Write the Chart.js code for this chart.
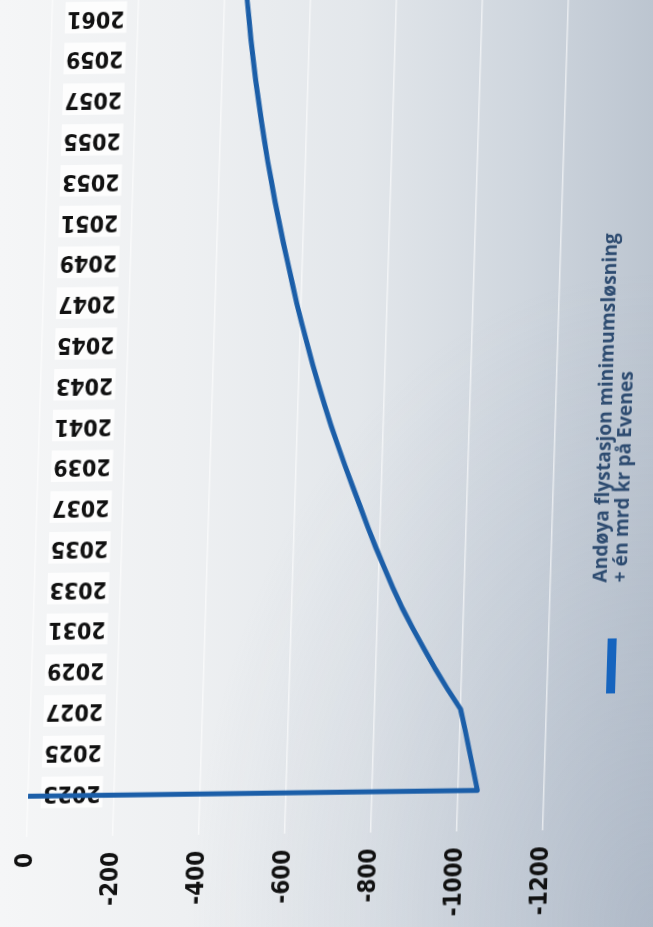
<!DOCTYPE html>
<html><head><meta charset="utf-8">
<script src="https://cdn.jsdelivr.net/npm/chart.js@4/dist/chart.umd.min.js"></script>
<style>
html,body{margin:0;padding:0;width:653px;height:927px;overflow:hidden;}
body{background:
  radial-gradient(ellipse at 100% 100%, rgba(150,163,183,0.35) 0%, rgba(150,163,183,0) 50%),
  linear-gradient(to right, #f5f6f7 0%, #eef0f2 28%, #e3e7eb 55%, #cfd6de 80%, #bcc5d0 100%);}
#wrap{position:absolute;left:0;top:0;width:970px;height:653px;transform-origin:0 0;transform:matrix(0.031,-1,1,-0.013,-16,927.5);}
#c{position:absolute;left:0;top:0;}
#mk{position:absolute;left:226px;top:615px;width:55px;height:9px;background:#1664be;}
#txt{position:absolute;left:337px;top:595px;font-family:'Open Sans',sans-serif;font-weight:700;font-size:19px;line-height:20px;color:#2d4b70;white-space:nowrap;}
</style></head>
<body>
<div id="wrap">
<canvas id="c" width="970" height="653"></canvas>
<div id="mk"></div>
<div id="txt"><span id="l1"></span><br><span id="l2"></span></div>
</div>
<script>
const years = [2023, 2023, 2024, 2025, 2026, 2027, 2028, 2029, 2030, 2031, 2032, 2033, 2034, 2035, 2036, 2037, 2038, 2039, 2040, 2041, 2042, 2043, 2044, 2045, 2046, 2047, 2048, 2049, 2050, 2051, 2052, 2053, 2054, 2055, 2056, 2057, 2058, 2059, 2060, 2061, 2062];
const values = [0, -1045, -1034, -1023, -1012, -1000, -968, -938, -910, -883, -857, -834, -812, -791, -771, -752, -733, -714, -696, -678, -662, -646, -631, -617, -603, -590, -578, -566, -554, -543, -532, -522, -512, -503, -494, -486, -478, -471, -464, -458, -452];
const yearTicks = [2023, 2025, 2027, 2029, 2031, 2033, 2035, 2037, 2039, 2041, 2043, 2045, 2047, 2049, 2051, 2053, 2055, 2057, 2059, 2061];
const valueTicks = [0, -200, -400, -600, -800, -1000, -1200];
const seriesLabel = ['Andøya flystasjon minimumsløsning', '+ én mrd kr på Evenes'];

document.getElementById('l1').textContent = seriesLabel[0];
document.getElementById('l2').textContent = seriesLabel[1];
(function fit(){
  const t = document.getElementById('l1');
  const w = t.offsetWidth;
  if (w > 0) {
    const fs = 19 * 350 / w;
    document.getElementById('txt').style.fontSize = fs.toFixed(2) + 'px';
  }
})();

// rotated tick text is drawn half a line off its tick; shift tick anchors back
const LABEL_SHIFT = 0.5;
const tickFont = "'DejaVu Sans Condensed', 'DejaVu Sans', sans-serif";

const ctx = document.getElementById('c').getContext('2d');
new Chart(ctx, {
  type: 'line',
  data: {
    datasets: [{
      label: seriesLabel.join(' '),
      data: years.map((x, i) => ({x: x, y: values[i]})),
      borderColor: '#1b5ea8',
      borderWidth: 5,
      pointRadius: 0,
      tension: 0,
      fill: false,
      borderJoinStyle: 'round',
      borderCapStyle: 'round'
    }]
  },
  options: {
    responsive: false,
    animation: false,
    devicePixelRatio: 1,
    layout: {padding: {top: 40, bottom: 97, left: 0, right: 3}},
    plugins: {legend: {display: false}, tooltip: {enabled: false}},
    scales: {
      x: {
        type: 'linear', position: {y: 0}, min: 2021, max: 2064, z: 1,
        afterBuildTicks: s => { s.ticks = yearTicks.map(v => ({value: v - LABEL_SHIFT})); },
        grid: {display: false, drawTicks: false}, border: {display: false},
        ticks: {
          minRotation: 90, maxRotation: 90, autoSkip: false, padding: 15,
          color: '#111', font: {family: tickFont, size: 23, weight: 'bold'},
          callback: (v, i) => String(yearTicks[i]),
          showLabelBackdrop: true, backdropColor: 'rgba(255,255,255,0.8)', backdropPadding: 2
        }
      },
      y: {
        type: 'linear', min: -1200, max: 0,
        afterBuildTicks: s => { s.ticks = valueTicks.map(v => ({value: v})); },
        afterFit: s => { s.width = 90; },
        grid: {color: 'rgba(255,255,255,0.6)', lineWidth: 1.5, drawTicks: false},
        border: {display: false},
        ticks: {padding: 16, color: '#111', font: {family: tickFont, size: 24, weight: 'bold'}, callback: v => String(v)}
      }
    }
  }
});
</script>
</body></html>
